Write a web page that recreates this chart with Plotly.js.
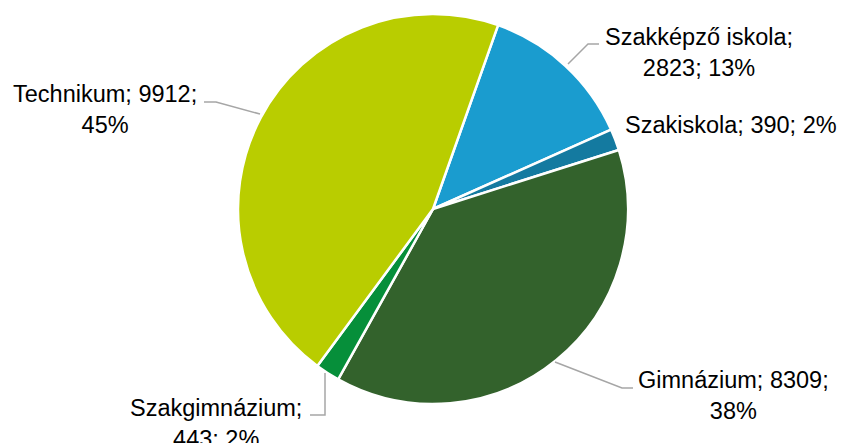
<!DOCTYPE html>
<html>
<head>
    <meta charset="utf-8">
    <script src="https://cdn.plot.ly/plotly-3.0.1.min.js"></script>
    <style>
        html, body { margin: 0; padding: 0; background: #ffffff; }
        #chart { width: 841px; height: 443px; }
    </style>
</head>
<body>
    <div id="chart"></div>
    <script>
        // school types and student counts, clockwise from the top
        const categories = ['Szakképző iskola', 'Szakiskola', 'Gimnázium', 'Szakgimnázium', 'Technikum'];
        const counts = [2823, 390, 8309, 443, 9912];
        const percentLabels = ['13%', '2%', '38%', '2%', '45%'];
        const sliceColors = ['#1a9ccf', '#147aa0', '#33622c', '#068f3a', '#b9cd00'];

        const W = 841, H = 443;
        const px = (x) => x / W;
        const py = (y) => 1 - y / H;

        // label text built from the data arrays
        const labelText = categories.map((c, i) => {
            if (i === 1) return c + '; ' + counts[i] + '; ' + percentLabels[i];
            if (i === 0 || i === 3) return c + ';<br>' + counts[i] + '; ' + percentLabels[i];
            return c + '; ' + counts[i] + ';<br>' + percentLabels[i];
        });

        // label centres (pixels) and leader lines
        const labelPos = [[699, 52], [731, 125], [733, 395], [216, 423], [105, 110]];
        const leaders = [
            [[568, 64], [588, 44], [599, 44]],
            null,
            [[555, 362], [622, 388], [633, 388]],
            [[325, 373], [325, 415], [310, 415]],
            [[260, 114], [216, 102], [204, 102]]
        ];

        const data = [{
            type: 'pie',
            labels: categories,
            values: counts,
            sort: false,
            direction: 'clockwise',
            rotation: 19.5,
            textinfo: 'none',
            hoverinfo: 'label+value+percent',
            marker: {
                colors: sliceColors,
                line: { color: '#ffffff', width: 2.5 }
            },
            domain: { x: [px(238), px(628)], y: [py(404), py(14)] },
            showlegend: false
        }];

        const annotations = labelText.map((t, i) => ({
            x: px(labelPos[i][0]),
            y: py(labelPos[i][1]),
            xref: 'paper',
            yref: 'paper',
            text: t,
            showarrow: false,
            align: 'center',
            xanchor: 'center',
            yanchor: 'middle',
            font: { family: 'Liberation Sans, Arial, sans-serif', size: 23.5, color: '#000000' }
        }));

        const shapes = leaders.filter(l => l).map(l => ({
            type: 'path',
            xref: 'paper',
            yref: 'paper',
            path: 'M' + l.map(p => px(p[0]) + ',' + py(p[1])).join(' L'),
            line: { color: '#a6a6a6', width: 1.5 }
        }));

        const layout = {
            width: W,
            height: H,
            margin: { l: 0, r: 0, t: 0, b: 0 },
            paper_bgcolor: '#ffffff',
            annotations: annotations,
            shapes: shapes
        };

        Plotly.newPlot('chart', data, layout, { displayModeBar: false });
    </script>
</body>
</html>
